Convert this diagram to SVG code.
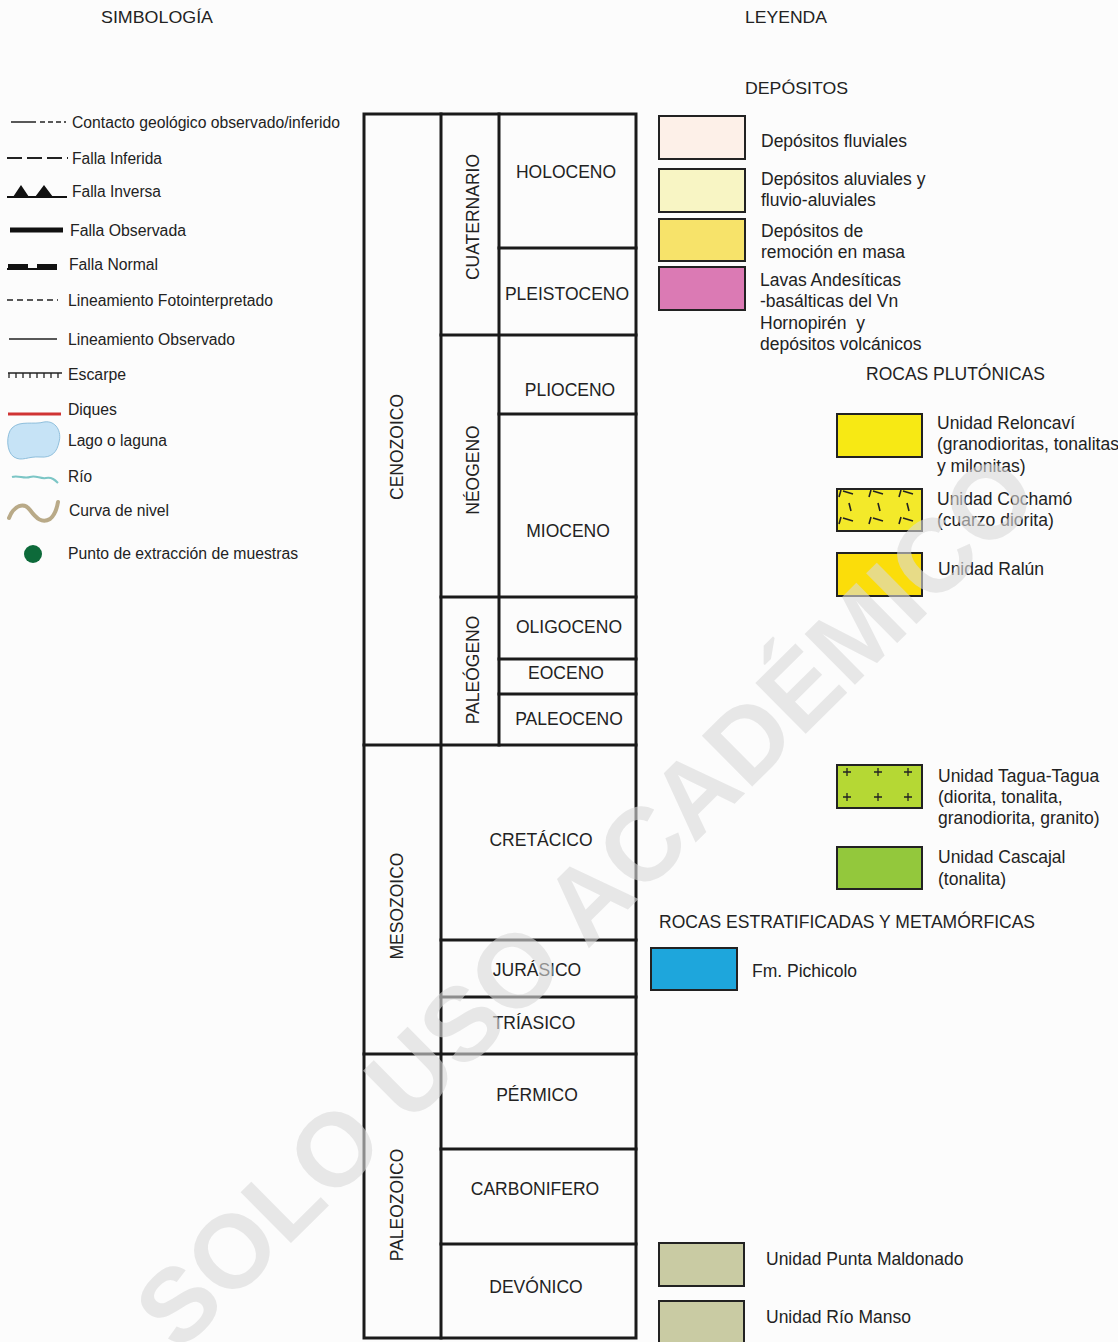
<svg xmlns="http://www.w3.org/2000/svg" width="1118" height="1342" viewBox="0 0 1118 1342">
<style>
.t{font-family:"Liberation Sans",Arial,sans-serif;fill:#222;}
.s{font-size:16px;}
.c{font-size:17.5px;text-anchor:middle;}
.l{font-size:17.5px;}
.h{font-size:16.5px;}
.ln{stroke:#1a1a1a;stroke-width:3;fill:none;stroke-linecap:square;}
.bx{stroke:#222;stroke-width:2;}
</style>
<rect x="0" y="0" width="1118" height="1342" fill="#fcfcfc"/>

<g id="headers">
<text class="t h" x="101" y="23" textLength="112" lengthAdjust="spacingAndGlyphs">SIMBOLOGÍA</text>
<text class="t h" x="745" y="23" textLength="82" lengthAdjust="spacingAndGlyphs">LEYENDA</text>
<text class="t h" x="745" y="94" textLength="103" lengthAdjust="spacingAndGlyphs">DEPÓSITOS</text>
</g>

<g id="simbologia">
<g id="sym-contacto">
<line x1="11" y1="122" x2="36" y2="122" stroke="#222" stroke-width="1.5"/>
<line x1="40" y1="122" x2="66" y2="122" stroke="#222" stroke-width="1.5" stroke-dasharray="5,3"/>
<text class="t s" x="72" y="128" textLength="268" lengthAdjust="spacingAndGlyphs">Contacto geológico observado/inferido</text>
</g>
<g id="sym-falla-inferida">
<line x1="7" y1="158" x2="68" y2="158" stroke="#222" stroke-width="2" stroke-dasharray="15,5"/>
<text class="t s" x="72" y="164" textLength="90" lengthAdjust="spacingAndGlyphs">Falla Inferida</text>
</g>
<g id="sym-falla-inversa">
<line x1="7" y1="197" x2="67" y2="197" stroke="#111" stroke-width="2"/>
<path d="M13 197 L21 185 L29 197 Z M35 197 L44 185 L53 197 Z" fill="#111"/>
<text class="t s" x="72" y="197" textLength="89" lengthAdjust="spacingAndGlyphs">Falla Inversa</text>
</g>
<g id="sym-falla-observada">
<line x1="10" y1="230" x2="63" y2="230" stroke="#111" stroke-width="5"/>
<text class="t s" x="70" y="236" textLength="116" lengthAdjust="spacingAndGlyphs">Falla Observada</text>
</g>
<g id="sym-falla-normal">
<line x1="7" y1="269" x2="57" y2="269" stroke="#111" stroke-width="2"/>
<rect x="8" y="264" width="20" height="5" fill="#111"/>
<rect x="37" y="264" width="20" height="5" fill="#111"/>
<text class="t s" x="69" y="270" textLength="89" lengthAdjust="spacingAndGlyphs">Falla Normal</text>
</g>
<g id="sym-lin-foto">
<line x1="7" y1="300" x2="58" y2="300" stroke="#222" stroke-width="1.5" stroke-dasharray="6,4"/>
<text class="t s" x="68" y="306" textLength="205" lengthAdjust="spacingAndGlyphs">Lineamiento Fotointerpretado</text>
</g>
<g id="sym-lin-obs">
<line x1="9" y1="339" x2="57" y2="339" stroke="#222" stroke-width="1.5"/>
<text class="t s" x="68" y="345" textLength="167" lengthAdjust="spacingAndGlyphs">Lineamiento Observado</text>
</g>
<g id="sym-escarpe">
<line x1="8" y1="373" x2="62" y2="373" stroke="#222" stroke-width="1.5"/>
<path d="M9 373v5M16 373v5M23 373v5M30 373v5M37 373v5M44 373v5M51 373v5M58 373v5" stroke="#222" stroke-width="1.3"/>
<text class="t s" x="68" y="380" textLength="58" lengthAdjust="spacingAndGlyphs">Escarpe</text>
</g>
<g id="sym-diques">
<line x1="8" y1="414" x2="61" y2="414" stroke="#d03434" stroke-width="3"/>
<text class="t s" x="68" y="415" textLength="49" lengthAdjust="spacingAndGlyphs">Diques</text>
</g>
<g id="sym-lago">
<path d="M12 428 C20 420 34 425 44 422 C56 420 62 432 59 442 C57 452 52 458 40 457 C28 456 22 462 14 457 C6 452 6 434 12 428 Z" fill="#c6e3f6" stroke="#8fbfdc" stroke-width="1"/>
<text class="t s" x="68" y="446" textLength="99" lengthAdjust="spacingAndGlyphs">Lago o laguna</text>
</g>
<g id="sym-rio">
<path d="M12 477 C18 475 24 479 30 477 C36 475 40 479 46 478 C52 477 55 480 58 483" fill="none" stroke="#7cc6c6" stroke-width="2"/>
<text class="t s" x="68" y="482" textLength="24" lengthAdjust="spacingAndGlyphs">Río</text>
</g>
<g id="sym-curva">
<path d="M9 518 C14 505 24 502 30 510 C36 518 42 524 50 519 C55 515 57 508 58 502" fill="none" stroke="#b9aa88" stroke-width="4" stroke-linecap="round"/>
<text class="t s" x="69" y="516" textLength="100" lengthAdjust="spacingAndGlyphs">Curva de nivel</text>
</g>
<g id="sym-punto">
<circle cx="33" cy="554" r="9" fill="#0d6a3a"/>
<text class="t s" x="68" y="559" textLength="230" lengthAdjust="spacingAndGlyphs">Punto de extracción de muestras</text>
</g>
</g>

<g id="chart-lines">
<rect class="ln" x="364" y="114" width="272" height="1224"/>
<line class="ln" x1="441" y1="114" x2="441" y2="1338"/>
<line class="ln" x1="499" y1="114" x2="499" y2="745"/>
<line class="ln" x1="364" y1="745" x2="636" y2="745"/>
<line class="ln" x1="364" y1="1054" x2="636" y2="1054"/>
<line class="ln" x1="441" y1="335" x2="636" y2="335"/>
<line class="ln" x1="441" y1="597" x2="636" y2="597"/>
<line class="ln" x1="441" y1="940" x2="636" y2="940"/>
<line class="ln" x1="441" y1="997" x2="636" y2="997"/>
<line class="ln" x1="441" y1="1149" x2="636" y2="1149"/>
<line class="ln" x1="441" y1="1244" x2="636" y2="1244"/>
<line class="ln" x1="499" y1="248" x2="636" y2="248"/>
<line class="ln" x1="499" y1="414" x2="636" y2="414"/>
<line class="ln" x1="499" y1="659" x2="636" y2="659"/>
<line class="ln" x1="499" y1="694" x2="636" y2="694"/>
</g>

<g id="eras">
<g id="era-cenozoico"><text class="t c" transform="translate(403,447) rotate(-90)">CENOZOICO</text></g>
<g id="era-mesozoico"><text class="t c" transform="translate(403,906) rotate(-90)">MESOZOICO</text></g>
<g id="era-paleozoico"><text class="t c" transform="translate(403,1205) rotate(-90)">PALEOZOICO</text></g>
</g>
<g id="periods">
<g id="p-cuaternario"><text class="t c" transform="translate(479,217) rotate(-90)">CUATERNARIO</text></g>
<g id="p-neogeno"><text class="t c" transform="translate(479,470) rotate(-90)">NÉOGENO</text></g>
<g id="p-paleogeno"><text class="t c" transform="translate(479,670) rotate(-90)">PALEÓGENO</text></g>
<g id="p-cretacico"><text class="t c" x="541" y="846">CRETÁCICO</text></g>
<g id="p-jurasico"><text class="t c" x="537" y="976">JURÁSICO</text></g>
<g id="p-triasico"><text class="t c" x="534" y="1029">TRÍASICO</text></g>
<g id="p-permico"><text class="t c" x="537" y="1101">PÉRMICO</text></g>
<g id="p-carbonifero"><text class="t c" x="535" y="1195">CARBONIFERO</text></g>
<g id="p-devonico"><text class="t c" x="536" y="1293">DEVÓNICO</text></g>
</g>
<g id="epochs">
<g id="e-holoceno"><text class="t c" x="566" y="178">HOLOCENO</text></g>
<g id="e-pleistoceno"><text class="t c" x="567" y="300">PLEISTOCENO</text></g>
<g id="e-plioceno"><text class="t c" x="570" y="396">PLIOCENO</text></g>
<g id="e-mioceno"><text class="t c" x="568" y="537">MIOCENO</text></g>
<g id="e-oligoceno"><text class="t c" x="569" y="633">OLIGOCENO</text></g>
<g id="e-eoceno"><text class="t c" x="566" y="679">EOCENO</text></g>
<g id="e-paleoceno"><text class="t c" x="569" y="725">PALEOCENO</text></g>
</g>

<g id="leyenda">
<g id="lg-fluviales">
<rect class="bx" x="659" y="116" width="86" height="43" fill="#fdf0e8"/>
<text class="t l" x="761" y="147">Depósitos fluviales</text>
</g>
<g id="lg-aluviales">
<rect class="bx" x="659" y="169" width="86" height="43" fill="#f8f5c4"/>
<text class="t l" x="761" y="185">Depósitos aluviales y</text>
<text class="t l" x="761" y="206">fluvio-aluviales</text>
</g>
<g id="lg-remocion">
<rect class="bx" x="659" y="219" width="86" height="42" fill="#f7e36a"/>
<text class="t l" x="761" y="237">Depósitos de</text>
<text class="t l" x="761" y="258">remoción en masa</text>
</g>
<g id="lg-lavas">
<rect class="bx" x="659" y="267" width="86" height="43" fill="#db7ab4"/>
<text class="t l" x="760" y="286">Lavas Andesíticas</text>
<text class="t l" x="760" y="307">-basálticas del Vn</text>
<text class="t l" x="760" y="329" xml:space="preserve">Hornopirén  y</text>
<text class="t l" x="760" y="350">depósitos volcánicos</text>
</g>
<text class="t l" x="866" y="380">ROCAS PLUTÓNICAS</text>
<g id="lg-reloncavi">
<rect class="bx" x="837" y="414" width="85" height="43" fill="#f7e914"/>
<text class="t l" x="937" y="429">Unidad Reloncaví</text>
<text class="t l" x="937" y="450">(granodioritas, tonalitas</text>
<text class="t l" x="937" y="472">y milonitas)</text>
</g>
<g id="lg-cochamo">
<rect class="bx" x="837" y="489" width="85" height="42" fill="#f3e92a"/>
<path d="M839 497l2-7M843 491l10 3M849 503l2 8M839 524l2-7M843 518l10 3M869 497l2-7M873 491l10 3M878 503l2 8M869 524l2-7M873 518l10 3M899 497l2-7M903 491l10 3M907 503l2 8M899 524l2-7M903 518l10 3" stroke="#222" stroke-width="1.6" fill="none"/>
<text class="t l" x="937" y="505">Unidad Cochamó</text>
<text class="t l" x="937" y="526">(cuarzo diorita)</text>
</g>
<g id="lg-ralun">
<rect class="bx" x="837" y="553" width="85" height="43" fill="#fbdd0a"/>
<text class="t l" x="938" y="575">Unidad Ralún</text>
</g>
<g id="lg-tagua">
<rect class="bx" x="837" y="765" width="85" height="43" fill="#b5d834"/>
<path d="M843 772h8M847 768v8M874 772h8M878 768v8M904 772h8M908 768v8M843 797h8M847 793v8M874 797h8M878 793v8M904 797h8M908 793v8" stroke="#222" stroke-width="1.3"/>
<text class="t l" x="938" y="782">Unidad Tagua-Tagua</text>
<text class="t l" x="938" y="803">(diorita, tonalita,</text>
<text class="t l" x="938" y="824">granodiorita, granito)</text>
</g>
<g id="lg-cascajal">
<rect class="bx" x="837" y="847" width="85" height="42" fill="#93c83c"/>
<text class="t l" x="938" y="863">Unidad Cascajal</text>
<text class="t l" x="938" y="885">(tonalita)</text>
</g>
<text class="t l" x="659" y="928">ROCAS ESTRATIFICADAS Y METAMÓRFICAS</text>
<g id="lg-pichicolo">
<rect class="bx" x="651" y="948" width="86" height="42" fill="#1ea6dc"/>
<text class="t l" x="752" y="977">Fm. Pichicolo</text>
</g>
<g id="lg-punta-maldonado">
<rect class="bx" x="659" y="1243" width="85" height="43" fill="#c9cba3"/>
<text class="t l" x="766" y="1265">Unidad Punta Maldonado</text>
</g>
<g id="lg-rio-manso">
<rect class="bx" x="659" y="1301" width="85" height="45" fill="#c9cba3"/>
<text class="t l" x="766" y="1323">Unidad Río Manso</text>
</g>
</g>

<g id="watermark" opacity="0.6">
<text transform="translate(585,900) rotate(-44.7)" x="0" y="37" text-anchor="middle" font-family="Liberation Sans, Arial, sans-serif" font-weight="bold" font-size="104" fill="#dadada">SOLO USO ACADÉMICO</text>
</g>
</svg>
